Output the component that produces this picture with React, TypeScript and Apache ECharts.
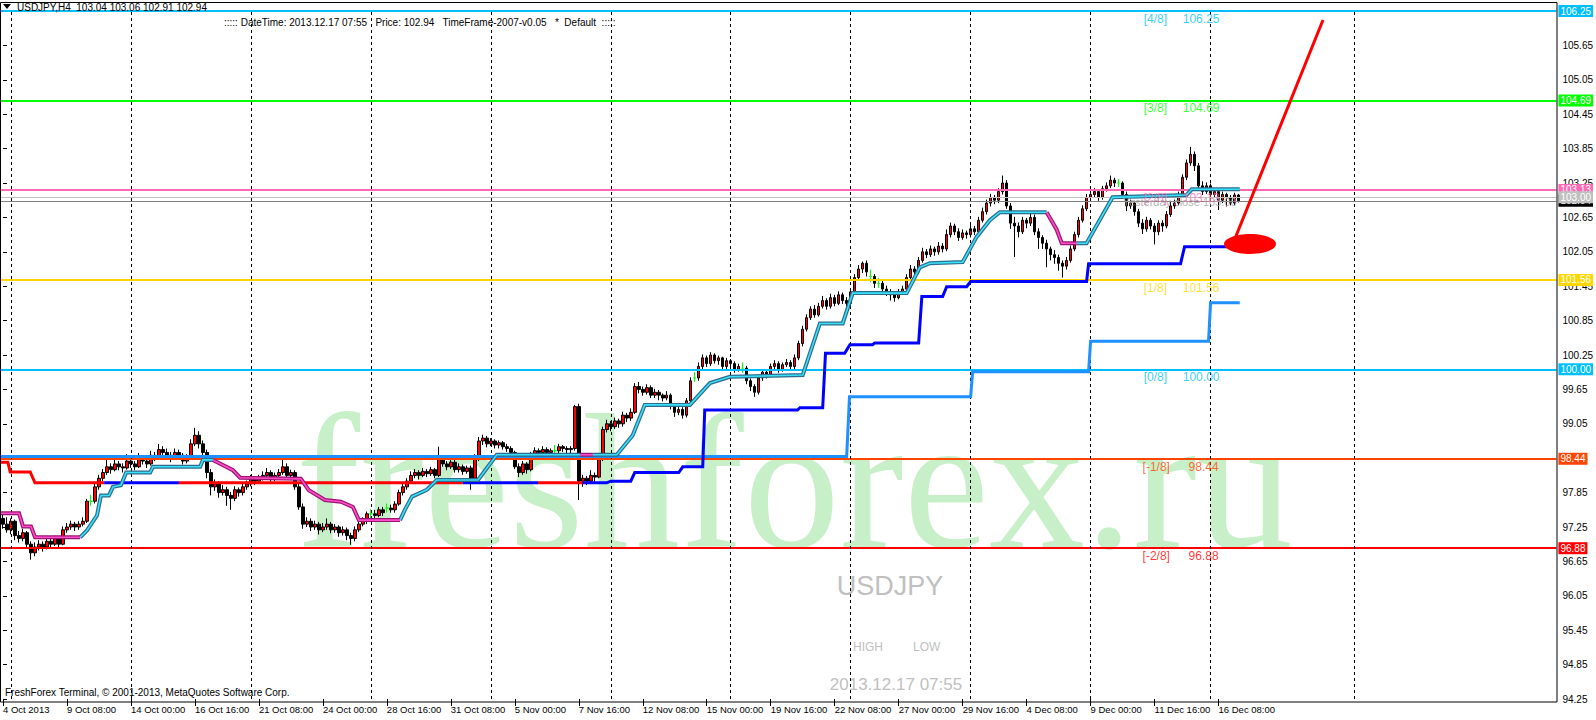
import React, { useEffect, useRef } from "react";
import * as echarts from "echarts";

// ---------- data ----------
// H4 candles, each [open, high, low, close]
const candlesOHLC: number[][] = [
  [97.40,97.49,97.22,97.30],[97.30,97.42,97.15,97.20],[97.20,97.40,97.12,97.35],[97.35,97.38,97.02,97.10],[97.10,97.18,96.98,97.05],
  [97.05,97.22,97.00,97.15],[97.15,97.18,96.88,96.95],[96.95,97.00,96.68,96.80],[96.80,96.98,96.74,96.90],[96.90,97.02,96.84,96.95],
  [96.95,97.00,96.82,96.90],[96.90,97.08,96.86,97.00],[97.00,97.06,96.88,96.95],[96.95,97.10,96.92,97.05],[97.05,97.08,96.90,96.95],
  [96.95,97.26,96.93,97.20],[97.20,97.32,97.15,97.25],[97.25,97.36,97.20,97.30],[97.30,97.34,97.18,97.25],[97.25,97.35,97.20,97.30],
  [97.30,97.42,97.26,97.35],[97.35,97.74,97.32,97.70],[97.70,97.81,97.62,97.70],[97.70,98.00,97.66,97.95],[97.95,98.16,97.90,98.10],
  [98.10,98.26,98.05,98.20],[98.20,98.42,98.16,98.30],[98.30,98.36,98.18,98.25],[98.25,98.45,98.22,98.35],[98.35,98.40,98.24,98.30],
  [98.30,98.36,98.20,98.28],[98.28,98.52,98.25,98.40],[98.40,98.44,98.28,98.35],[98.35,98.40,98.24,98.30],[98.30,98.54,98.28,98.45],
  [98.45,98.50,98.34,98.40],[98.40,98.46,98.28,98.35],[98.35,98.58,98.32,98.50],[98.50,98.56,98.40,98.45],[98.45,98.70,98.42,98.60],
  [98.60,98.66,98.48,98.55],[98.55,98.62,98.44,98.50],[98.50,98.56,98.38,98.45],[98.45,98.62,98.42,98.55],[98.55,98.60,98.44,98.50],
  [98.50,98.54,98.34,98.40],[98.40,98.52,98.36,98.45],[98.45,98.78,98.42,98.70],[98.70,98.98,98.66,98.85],[98.85,98.92,98.62,98.70],
  [98.70,98.76,98.48,98.55],[98.55,98.60,98.10,98.20],[98.20,98.26,97.80,97.95],[97.95,98.08,97.88,98.00],[98.00,98.05,97.76,97.85],
  [97.85,97.98,97.80,97.90],[97.90,97.95,97.62,97.80],[97.80,97.86,97.55,97.75],[97.75,97.96,97.70,97.90],[97.90,97.94,97.78,97.85],
  [97.85,98.02,97.80,97.95],[97.95,98.06,97.90,98.00],[98.00,98.16,97.96,98.10],[98.10,98.14,97.98,98.05],[98.05,98.16,98.00,98.10],
  [98.10,98.22,98.06,98.15],[98.15,98.28,98.10,98.20],[98.20,98.24,98.04,98.10],[98.10,98.20,98.05,98.15],[98.15,98.26,98.10,98.20],
  [98.20,98.42,98.16,98.30],[98.30,98.36,98.10,98.15],[98.15,98.25,98.10,98.20],[98.20,98.24,97.90,97.95],[97.95,98.00,97.55,97.60],
  [97.60,97.66,97.22,97.30],[97.30,97.42,97.25,97.35],[97.35,97.40,97.18,97.25],[97.25,97.36,97.20,97.30],[97.30,97.34,97.12,97.20],
  [97.20,97.32,97.16,97.25],[97.25,97.40,97.20,97.30],[97.30,97.34,97.14,97.20],[97.20,97.30,97.15,97.25],[97.25,97.28,97.08,97.15],
  [97.15,97.26,97.10,97.20],[97.20,97.24,97.02,97.10],[97.10,97.15,96.94,97.05],[97.05,97.26,97.00,97.20],[97.20,97.36,97.16,97.30],
  [97.30,97.42,97.26,97.35],[97.35,97.52,97.30,97.48],[97.48,97.56,97.40,97.48],[97.48,97.55,97.38,97.45],[97.45,97.60,97.42,97.55],
  [97.55,97.60,97.44,97.50],[97.58,97.66,97.50,97.58],[97.58,97.64,97.50,97.55],[97.55,97.70,97.50,97.65],[97.65,97.90,97.62,97.85],
  [97.85,98.00,97.80,97.95],[97.95,98.10,97.90,98.05],[98.05,98.22,98.00,98.15],[98.15,98.26,98.10,98.20],[98.20,98.24,98.08,98.15],
  [98.15,98.28,98.12,98.22],[98.22,98.26,98.12,98.18],[98.18,98.30,98.14,98.25],[98.25,98.28,98.10,98.15],[98.15,98.65,98.12,98.45],
  [98.45,98.50,98.30,98.35],[98.35,98.40,98.24,98.30],[98.30,98.44,98.26,98.38],[98.38,98.42,98.20,98.25],[98.25,98.36,98.20,98.30],
  [98.30,98.34,98.16,98.22],[98.22,98.32,98.18,98.28],[98.28,98.32,97.90,98.10],[98.10,98.52,98.06,98.45],[98.45,98.82,98.40,98.75],
  [98.75,98.86,98.68,98.80],[98.80,98.84,98.64,98.70],[98.70,98.80,98.66,98.75],[98.75,98.78,98.62,98.68],[98.68,98.76,98.62,98.72],
  [98.72,98.75,98.60,98.65],[98.65,98.70,98.56,98.62],[98.62,98.66,98.50,98.55],[98.55,98.58,98.26,98.30],[98.30,98.36,98.12,98.20],
  [98.20,98.40,98.16,98.35],[98.35,98.38,98.18,98.25],[98.25,98.56,98.22,98.50],[98.50,98.64,98.46,98.58],[98.58,98.62,98.48,98.55],
  [98.55,98.66,98.50,98.60],[98.60,98.64,98.50,98.55],[98.55,98.62,98.50,98.58],[98.58,98.68,98.52,98.58],[98.58,98.70,98.54,98.65],
  [98.65,98.68,98.56,98.62],[98.62,98.66,98.52,98.60],[98.60,98.66,98.54,98.62],[98.62,99.38,98.58,99.35],[99.35,99.40,97.72,98.05],
  [98.05,98.16,97.95,98.10],[98.10,98.14,97.98,98.05],[98.05,98.24,98.00,98.15],[98.15,98.20,98.04,98.12],[98.12,98.50,98.10,98.45],
  [98.45,99.00,98.40,98.95],[98.95,99.12,98.90,99.05],[99.05,99.10,98.92,99.00],[99.00,99.16,98.96,99.10],[99.10,99.14,98.98,99.05],
  [99.05,99.26,99.00,99.20],[99.20,99.24,99.08,99.15],[99.15,99.32,99.10,99.25],[99.25,99.76,99.22,99.70],[99.70,99.78,99.58,99.65],
  [99.65,99.70,99.54,99.60],[99.60,99.74,99.56,99.68],[99.68,99.72,99.50,99.55],[99.55,99.66,99.50,99.60],[99.60,99.64,99.46,99.55],
  [99.55,99.58,99.44,99.50],[99.50,99.62,99.46,99.55],[99.55,99.58,99.30,99.35],[99.35,99.40,99.17,99.25],[99.25,99.36,99.20,99.30],
  [99.30,99.34,99.14,99.20],[99.20,99.50,99.16,99.45],[99.45,99.86,99.40,99.80],[99.85,99.95,99.78,99.85],[99.85,100.12,99.80,100.05],
  [100.05,100.26,100.00,100.20],[100.20,100.24,100.04,100.10],[100.10,100.30,100.06,100.25],[100.25,100.28,100.10,100.15],[100.15,100.24,100.08,100.20],
  [100.20,100.22,100.00,100.05],[100.05,100.20,100.00,100.15],[100.15,100.18,100.04,100.10],[100.10,100.14,99.94,100.00],[100.00,100.10,99.96,100.05],
  [100.02,100.12,99.94,100.02],[100.02,100.06,99.74,99.80],[99.80,99.84,99.62,99.70],[99.70,99.74,99.52,99.60],[99.60,99.90,99.56,99.85],
  [99.85,100.00,99.80,99.95],[99.95,99.98,99.84,99.90],[99.90,100.10,99.86,100.05],[100.05,100.16,100.00,100.10],[100.10,100.14,99.94,100.00],
  [100.00,100.12,99.96,100.08],[100.08,100.18,100.04,100.12],[100.12,100.16,99.98,100.05],[100.05,100.26,100.00,100.20],[100.20,100.50,100.16,100.45],
  [100.45,100.76,100.40,100.70],[100.70,100.96,100.66,100.90],[100.90,101.10,100.86,101.05],[101.05,101.12,100.90,100.95],[100.95,101.16,100.92,101.10],
  [101.10,101.28,101.06,101.20],[101.20,101.24,101.04,101.10],[101.10,101.32,101.06,101.25],[101.25,101.30,101.10,101.15],[101.15,101.36,101.12,101.30],
  [101.30,101.34,101.14,101.20],[101.20,101.26,101.08,101.15],[101.15,101.40,101.10,101.35],[101.35,101.66,101.30,101.60],[101.60,101.82,101.55,101.75],
  [101.75,101.88,101.68,101.85],[101.85,101.90,101.62,101.70],[101.62,101.74,101.52,101.62],[101.62,101.66,101.42,101.50],[101.50,101.60,101.42,101.50],
  [101.50,101.54,101.34,101.40],[101.40,101.46,101.28,101.35],[101.35,101.40,101.20,101.30],[101.30,101.36,101.18,101.25],[101.25,101.40,101.22,101.35],
  [101.35,101.46,101.30,101.40],[101.40,101.66,101.36,101.60],[101.60,101.82,101.56,101.75],[101.75,101.80,101.64,101.70],[101.70,101.96,101.66,101.90],
  [101.90,102.12,101.86,102.05],[102.05,102.10,101.94,102.00],[102.00,102.16,101.96,102.10],[102.10,102.14,101.98,102.05],[102.05,102.22,102.00,102.15],
  [102.15,102.20,102.04,102.10],[102.10,102.44,102.06,102.35],[102.35,102.56,102.30,102.50],[102.50,102.54,102.34,102.40],[102.40,102.46,102.24,102.30],
  [102.30,102.44,102.26,102.38],[102.38,102.42,102.28,102.35],[102.35,102.52,102.30,102.45],[102.45,102.50,102.34,102.40],[102.40,102.66,102.36,102.60],
  [102.60,102.82,102.56,102.75],[102.75,102.96,102.70,102.90],[102.90,103.06,102.84,103.00],[103.00,103.04,102.88,102.95],[102.95,103.16,102.90,103.10],
  [103.10,103.38,103.05,103.25],[103.25,103.30,102.80,102.85],[102.85,102.90,102.45,102.55],[102.55,102.66,101.96,102.50],[102.50,102.56,102.30,102.40],
  [102.40,102.66,102.36,102.60],[102.60,102.64,102.46,102.55],[102.55,102.72,102.50,102.65],[102.65,102.70,102.34,102.40],[102.40,102.46,102.10,102.30],
  [102.30,102.34,102.10,102.20],[102.20,102.26,101.78,102.10],[102.10,102.14,101.90,102.00],[102.00,102.08,101.84,101.95],[101.95,102.00,101.72,101.85],
  [101.85,101.90,101.60,101.80],[101.80,101.96,101.74,101.90],[101.90,102.16,101.86,102.10],[102.10,102.40,102.06,102.35],[102.35,102.66,102.30,102.60],
  [102.60,102.86,102.56,102.80],[102.80,103.06,102.76,103.00],[103.00,103.12,102.94,103.05],[103.05,103.16,103.00,103.10],[103.10,103.14,102.94,103.00],
  [103.00,103.20,102.96,103.15],[103.15,103.26,103.10,103.20],[103.20,103.38,103.16,103.30],[103.30,103.34,103.18,103.25],[103.25,103.32,103.18,103.25],
  [103.25,103.28,103.00,103.05],[103.05,103.10,102.76,102.85],[102.85,102.96,102.80,102.90],[102.90,102.94,102.68,102.75],[102.75,102.80,102.48,102.55],
  [102.55,102.62,102.36,102.45],[102.45,102.66,102.40,102.60],[102.60,102.64,102.44,102.50],[102.50,102.55,102.18,102.40],[102.40,102.60,102.34,102.55],
  [102.55,102.60,102.40,102.50],[102.50,102.76,102.46,102.70],[102.70,102.92,102.66,102.85],[102.85,102.96,102.80,102.90],[102.90,103.10,102.86,103.05],
  [103.05,103.40,103.00,103.35],[103.35,103.66,103.30,103.60],[103.60,103.88,103.55,103.75],[103.75,103.80,103.46,103.55],[103.55,103.60,103.14,103.20],
  [103.20,103.28,103.04,103.10],[103.10,103.26,103.06,103.20],[103.20,103.24,102.96,103.05],[103.05,103.16,103.00,103.10],[103.10,103.14,102.78,102.95],
  [102.95,103.10,102.90,103.05],[103.05,103.08,102.84,103.00],[103.00,103.04,102.86,102.90],[102.90,103.08,102.86,103.04],[103.04,103.06,102.91,102.94],
];

const TOTAL_SLOTS = 389; // bars + empty future space
const LABEL_STEP = 16;
const xTickLabels = [
  "4 Oct 2013", "9 Oct 08:00", "14 Oct 00:00", "16 Oct 16:00", "21 Oct 08:00", "24 Oct 00:00",
  "28 Oct 16:00", "31 Oct 08:00", "5 Nov 00:00", "7 Nov 16:00", "12 Nov 08:00", "15 Nov 00:00",
  "19 Nov 16:00", "22 Nov 08:00", "27 Nov 00:00", "29 Nov 16:00", "4 Dec 08:00", "9 Dec 00:00",
  "11 Dec 16:00", "16 Dec 08:00",
];
const gridBarIdx = [2, 32, 62, 92, 122, 152, 182, 212, 242, 272, 302, 338];

const yMin = 94.25;
const yMax = 106.25;
const yStep = 0.6;

// Murrey math levels
const murreyLevels = [106.25, 104.69, 103.13, 101.56, 100.0, 98.44, 96.88];
const murreyTags = ["[4/8]", "[3/8]", "[2/8]", "[1/8]", "[0/8]", "[-1/8]", "[-2/8]"];
const murreyColors = ["#00bfff", "#00ff00", "#ff69b4", "#ffd700", "#00bfff", "#ff4500", "#ff0000"];
const murreyTagX = [285.3, 285.3, 285.3, 285.3, 285.3, 285, 285];
const murreyTagWidth = [39, 39, 39, 39, 39, 46, 46];

const yesterdayClose = 103.0;
const bidPrice = 102.94;

// trailing line segments: [barIndex, price]
const magentaSegs: number[][][] = [
  [[-0.5, 97.49], [4, 97.49], [5, 97.26], [7, 97.26], [8, 97.07], [19.3, 97.07]],
  [[52.5, 98.42], [57.5, 98.24], [59.3, 98.11], [74.5, 98.09], [76.5, 97.89], [80.5, 97.72], [84.5, 97.69], [87.5, 97.6], [89, 97.37], [99.3, 97.37]],
  [[144.3, 98.51], [147.5, 98.51]],
  [[261, 102.74], [263.5, 102.44], [264.8, 102.2], [268.5, 102.2]],
];
const cyanSegs: number[][][] = [
  [[19.3, 97.07], [21, 97.19], [23.5, 97.45], [24.5, 97.8], [26.5, 97.8], [27.5, 97.95], [29.5, 97.98], [30.8, 98.2], [36.8, 98.2], [37.5, 98.3], [49.3, 98.3], [50, 98.42], [52.5, 98.42]],
  [[99.3, 97.37], [100.5, 97.55], [102.3, 97.78], [106, 97.9], [108.5, 98.07], [118.8, 98.07], [123.5, 98.51], [144.3, 98.51]],
  [[147.5, 98.51], [153.5, 98.51], [157.5, 98.85], [160.5, 99.38], [171.8, 99.38], [176.8, 99.76], [181.8, 99.87], [200, 99.9], [204.3, 100.8], [210, 100.8], [212.5, 101.33], [226, 101.33], [229.3, 101.78], [231.8, 101.85], [240, 101.87], [243.5, 102.31], [246.8, 102.6], [249.3, 102.74], [261, 102.74]],
  [[268.5, 102.2], [271, 102.2], [277.5, 103.0], [296, 103.04], [297.3, 103.14], [309.3, 103.14]],
];
const trendRedSegs: number[][][] = [
  [[-0.5, 98.38], [1.2, 98.38], [1.8, 98.21], [6.8, 98.21], [8, 98.02], [25.3, 98.02]],
  [[44, 98.02], [115, 98.02]],
  [[133.8, 98.02], [145, 98.02]],
];
const trendBlueSegs: number[][][] = [
  [[25.3, 98.02], [44, 98.02]],
  [[115, 98.02], [133.8, 98.02]],
  [[145, 98.02], [151, 98.02], [152, 98.05], [157, 98.05], [158, 98.2], [169, 98.2], [170, 98.3], [175, 98.3], [175.5, 99.29], [198.7, 99.29], [199.3, 99.33], [205, 99.33], [205.7, 100.28], [210.5, 100.28], [211.8, 100.43], [217.5, 100.43], [218, 100.46], [229, 100.46], [229.8, 101.27], [235, 101.27], [236, 101.44], [241, 101.44], [242, 101.53], [271, 101.53], [271.5, 101.84], [294.5, 101.84], [295.5, 102.14], [306, 102.14]],
];
const lightBlueStep: number[][] = [
  [-0.5, 98.48], [211, 98.48], [211.7, 99.52], [242, 99.52], [242.5, 99.96], [271.5, 99.96], [272, 100.49], [301.5, 100.49], [302, 101.16], [309.3, 101.16],
];

const FONT = "Liberation Sans";

function lineSeries(pts: number[][], color: string, width: number, z: number) {
  return {
    type: "line",
    xAxisIndex: 1,
    yAxisIndex: 0,
    data: pts,
    symbol: "none",
    showSymbol: false,
    silent: true,
    z,
    lineStyle: { color, width, cap: "butt", join: "miter" },
  };
}

function buildOption(): any {
  const categories = Array.from({ length: TOTAL_SLOTS }, (_, i) => String(i));
  const showLabel = (i: number) => i % LABEL_STEP === 0 && i / LABEL_STEP < xTickLabels.length;

  const series: any[] = [];

  // murrey + price lines via markLine on the candle series
  const mlData: any[] = [];
  murreyLevels.forEach((lv, k) => {
    mlData.push({
      yAxis: lv,
      lineStyle: { color: murreyColors[k], width: 2, type: "solid" },
      label: {
        show: true, position: "end", distance: 2, formatter: lv.toFixed(2),
        color: "#ffffff", backgroundColor: murreyColors[k], padding: [1, 2, 0, 2],
        fontSize: 10, fontFamily: FONT, lineHeight: 11,
      },
    });
  });
  mlData.push({
    yAxis: bidPrice,
    lineStyle: { color: "#808080", width: 1, type: "solid" },
    label: { show: true, position: "end", distance: 2, formatter: bidPrice.toFixed(2), color: "#fff", backgroundColor: "#000", padding: [1, 2, 0, 2], fontSize: 10, fontFamily: FONT, lineHeight: 11 },
  });
  mlData.push({
    yAxis: yesterdayClose,
    lineStyle: { color: "#c0c0c0", width: 1, type: "solid" },
    label: { show: true, position: "end", distance: 2, formatter: yesterdayClose.toFixed(2), color: "#fff", backgroundColor: "#c0c0c0", padding: [1, 2, 0, 2], fontSize: 10, fontFamily: FONT, lineHeight: 11 },
  });

  series.push({
    type: "candlestick",
    xAxisIndex: 0,
    yAxisIndex: 0,
    barWidth: 3,
    z: 3,
    silent: true,
    data: candlesOHLC.map(([o, h, l, c]) => [o, c, l, h]),
    itemStyle: {
      color: "#ff0000",
      color0: "#000000",
      borderColor: "#000000",
      borderColor0: "#000000",
      borderColorDoji: "#00ff00",
      borderWidth: 1,
    },
    markLine: { silent: true, symbol: ["none", "none"], data: mlData, z: 4 },
  });

  // vertical dashed grid
  series.push({
    type: "line",
    xAxisIndex: 1,
    yAxisIndex: 0,
    data: [],
    z: 1,
    markLine: {
      silent: true,
      symbol: ["none", "none"],
      label: { show: false },
      lineStyle: { color: "#000", width: 1, type: [3, 3] },
      data: gridBarIdx.map((v) => ({ xAxis: v })),
    },
  });

  // light blue step
  series.push(lineSeries(lightBlueStep, "#1e90ff", 3, 5));
  // red / blue trend line
  trendRedSegs.forEach((s) => series.push(lineSeries(s, "#ff0000", 3, 6)));
  trendBlueSegs.forEach((s) => series.push(lineSeries(s, "#0000ff", 3, 6)));
  // trailing line with outline
  cyanSegs.forEach((s) => series.push(lineSeries(s, "#2d6c8c", 4, 7)));
  magentaSegs.forEach((s) => series.push(lineSeries(s, "#9a1470", 4, 7)));
  cyanSegs.forEach((s) => series.push(lineSeries(s, "#38e0f8", 1.6, 8)));
  magentaSegs.forEach((s) => series.push(lineSeries(s, "#ff4cc8", 1.6, 8)));

  // murrey in-chart labels: tag and value as one rich label
  const tagData: any[] = murreyLevels.map((lv, k) => ({
    value: [murreyTagX[k], lv],
    label: {
      formatter: `{t|${murreyTags[k]}}{v|${lv.toFixed(2)}}`,
      rich: {
        t: { width: murreyTagWidth[k], fontSize: 12, fontFamily: FONT, color: murreyColors[k] },
        v: { fontSize: 12, fontFamily: FONT, color: murreyColors[k] },
      },
    },
  }));
  series.push({
    type: "scatter",
    xAxisIndex: 1,
    yAxisIndex: 0,
    symbolSize: 0,
    silent: true,
    z: 9,
    data: tagData,
    label: { show: true, position: [0, 2], align: "left", verticalAlign: "top", fontSize: 12, fontFamily: FONT },
  });
  series.push({
    type: "scatter",
    xAxisIndex: 1,
    yAxisIndex: 0,
    symbolSize: 0,
    silent: true,
    z: 9,
    data: [{ value: [280, yesterdayClose], label: { formatter: "Yesterday close " + yesterdayClose.toFixed(2) } }],
    label: { show: true, position: [0, -1], align: "left", verticalAlign: "top", fontSize: 11, fontFamily: FONT, color: "#a0a0a0" },
  });

  const graphic: any[] = [
    {
      type: "text", x: 296, y: 482, z: -10, silent: true,
      style: { text: "freshforex.ru", fill: "#c8f0c8", font: '192px "Liberation Serif"', textAlign: "left", textVerticalAlign: "middle" },
    },
    { type: "rect", z: 50, silent: true, shape: { x: 0.5, y: 2.5, width: 1556.5, height: 699.5 }, style: { fill: "none", stroke: "#000", lineWidth: 1 } },
    { type: "polygon", z: 50, silent: true, shape: { points: [[3, 4], [11, 4], [7, 9]] }, style: { fill: "#000" } },
    { type: "text", x: 17, y: 7, z: 50, silent: true, style: { text: "USDJPY,H4  103.04 103.06 102.91 102.94", fill: "#000", font: `10px "${FONT}"`, textVerticalAlign: "middle" } },
    { type: "text", x: 224, y: 22, z: 50, silent: true, style: { text: "::::: DateTime: 2013.12.17 07:55   Price: 102.94   TimeFrame-2007-v0.05   *  Default  :::::", fill: "#000", font: `10px "${FONT}"`, textVerticalAlign: "middle" } },
    { type: "text", x: 890, y: 586, z: 1, silent: true, style: { text: "USDJPY", fill: "#c0c0c0", font: `27px "${FONT}"`, textAlign: "center", textVerticalAlign: "middle" } },
    { type: "text", x: 853, y: 647, z: 1, silent: true, style: { text: "HIGH", fill: "#c0c0c0", font: `12px "${FONT}"`, textVerticalAlign: "middle" } },
    { type: "text", x: 913, y: 647, z: 1, silent: true, style: { text: "LOW", fill: "#c0c0c0", font: `12px "${FONT}"`, textVerticalAlign: "middle" } },
    { type: "text", x: 896, y: 684, z: 1, silent: true, style: { text: "2013.12.17 07:55", fill: "#c0c0c0", font: `17px "${FONT}"`, textAlign: "center", textVerticalAlign: "middle" } },
    { type: "text", x: 5, y: 692, z: 50, silent: true, style: { text: "FreshForex Terminal, © 2001-2013, MetaQuotes Software Corp.", fill: "#000", font: `10px "${FONT}"`, textVerticalAlign: "middle" } },
    { type: "line", z: 60, silent: true, shape: { x1: 1234, y1: 241, x2: 1323, y2: 20 }, style: { stroke: "#ff0000", lineWidth: 3 } },
    { type: "ellipse", z: 60, silent: true, shape: { cx: 1250, cy: 244, rx: 26, ry: 10 }, style: { fill: "#ff0000" } },
  ];

  return {
    animation: false,
    backgroundColor: "#ffffff",
    textStyle: { fontFamily: FONT },
    grid: { left: 1, right: 39, top: 11, bottom: 21, containLabel: false },
    xAxis: [
      {
        type: "category",
        data: categories,
        boundaryGap: true,
        axisLine: { show: false },
        splitLine: { show: false },
        axisTick: { show: true, alignWithLabel: true, interval: (i: number) => showLabel(i), length: 7, lineStyle: { color: "#000" } },
        axisLabel: {
          interval: (i: number) => showLabel(i),
          formatter: (_v: string, i: number) => xTickLabels[Math.round(i / LABEL_STEP)] ?? "",
          align: "left",
          margin: 5,
          color: "#000",
          fontSize: 9.5,
          fontFamily: FONT,
        },
      },
      { type: "value", min: -0.5, max: TOTAL_SLOTS - 0.5, show: false },
    ],
    yAxis: [
      {
        type: "value",
        position: "right",
        min: yMin,
        max: yMax,
        interval: yStep,
        axisLine: { show: false },
        splitLine: { show: false },
        axisTick: { show: true, length: 4, lineStyle: { color: "#000" } },
        axisLabel: { color: "#000", fontSize: 10, margin: 6, fontFamily: FONT, formatter: (v: number) => v.toFixed(2) },
      },
    ],
    series,
    graphic,
  };
}

export default function App() {
  const ref = useRef<HTMLDivElement>(null);
  useEffect(() => {
    if (!ref.current) return;
    const chart = echarts.init(ref.current, null, { renderer: "svg" });
    chart.setOption(buildOption());
    return () => chart.dispose();
  }, []);
  return (
    <div
      ref={ref}
      style={{ position: "fixed", left: 0, top: 0, width: 1596, height: 720, background: "#fff" }}
    />
  );
}
